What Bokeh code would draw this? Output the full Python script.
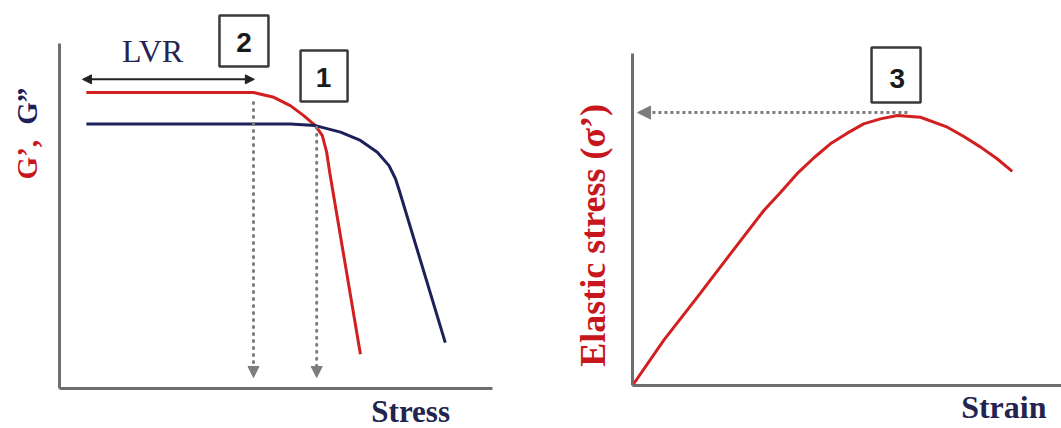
import math
from bokeh.plotting import figure
from bokeh.models import LinearAxis, FixedTicker, Label, Arrow, NormalHead, Range1d
from bokeh.layouts import row
from bokeh.embed import file_html
from bokeh.resources import INLINE

# ---------------- data (arbitrary units) ----------------
# Left panel: amplitude sweep, G' (red) and G'' (navy) versus stress
stress_g1 = [0.62, 4.48, 4.95, 5.33, 5.64, 5.91, 6.07, 6.17, 6.24, 6.95]
g_prime = [8.58, 8.58, 8.44, 8.20, 7.91, 7.62, 7.33, 6.85, 6.27, 0.99]
stress_g2 = [0.62, 5.33, 5.91, 6.49, 6.95, 7.34, 7.61, 7.76, 7.86, 8.91]
g_double_prime = [7.67, 7.67, 7.62, 7.43, 7.19, 6.85, 6.46, 6.08, 5.69, 1.33]

lvr_span = [0.53, 4.50]          # stress extent of the LVR arrow
lvr_level = 8.96
drop_stress = [4.48, 5.94]       # end of LVR, G'/G'' crossover
drop_from = [8.29, 7.57]
drop_to = [0.32, 0.32]

# Right panel: elastic stress versus strain
strain = [0.0, 0.74, 1.54, 1.93, 2.33, 3.12, 3.52, 3.91, 4.31, 4.70, 5.10, 5.49,
          5.89, 6.29, 6.84, 7.48, 7.87, 8.27, 8.66, 9.02]
elastic_stress = [0.0, 1.36, 2.66, 3.31, 3.97, 5.27, 5.82, 6.38, 6.86, 7.28, 7.60, 7.88,
                  8.03, 8.13, 8.08, 7.78, 7.50, 7.18, 6.83, 6.45]
yield_strain = 6.53
yield_stress = 8.22

box_labels_left = ["2", "1"]
box_labels_right = ["3"]

# ---------------- styling ----------------
RED = "#d21f1f"
RED_TXT = "#c8161d"
NAVY = "#1e205a"
TXT_NAVY = "#23244f"
AXIS_GREY = "#6e6e6e"
DOT_GREY = "#7d7d7d"
BOX = "#3a3a3a"
SERIF = "Liberation Serif"
SANS = "Liberation Sans"
H = 428


def add_axes(p, xb, yb):
    for loc, b in (("below", xb), ("left", yb)):
        ax = LinearAxis(fixed_location=0, bounds=b, ticker=FixedTicker(ticks=[]),
                        axis_line_color=AXIS_GREY, axis_line_width=3,
                        major_tick_line_color=None, minor_tick_line_color=None,
                        major_tick_in=0, major_tick_out=0, minor_tick_in=0, minor_tick_out=0,
                        major_label_text_font_size="0px", major_label_standoff=0,
                        axis_label=None)
        p.add_layout(ax, loc)


def base_fig(w, xr, yr):
    p = figure(width=w, height=H, x_range=Range1d(*xr), y_range=Range1d(*yr),
               output_backend="svg", toolbar_location=None,
               x_axis_location=None, y_axis_location=None,
               min_border=0, min_border_left=0, min_border_right=0,
               min_border_top=0, min_border_bottom=0)
    p.grid.visible = False
    p.outline_line_color = None
    p.background_fill_color = "white"
    p.border_fill_color = "white"
    return p


# ---------------- left panel ----------------
p1 = base_fig(530, (-1.363, 10.878), (-1.159, 11.246))
add_axes(p1, (0, 10), (0, 10))

p1.line(stress_g1, g_prime, line_color=RED, line_width=3)
p1.line(stress_g2, g_double_prime, line_color=NAVY, line_width=3)

for xs, y0, y1 in zip(drop_stress, drop_from, drop_to):
    p1.add_layout(Arrow(x_start=xs, y_start=y0, x_end=xs, y_end=y1,
                        line_color=DOT_GREY, line_width=3, line_dash="1 6", line_cap="round",
                        end=NormalHead(size=11, fill_color=DOT_GREY, line_color=DOT_GREY)))

p1.add_layout(Arrow(x_start=lvr_span[0], y_start=lvr_level, x_end=lvr_span[1], y_end=lvr_level,
                    line_color="#222222", line_width=2,
                    start=NormalHead(size=9, fill_color="#222222", line_color="#222222"),
                    end=NormalHead(size=9, fill_color="#222222", line_color="#222222")))

p1.add_layout(Label(x=2.15, y=9.77, text="LVR", text_align="center", text_baseline="alphabetic",
                    text_font=SERIF, text_font_size="32px", text_color=TXT_NAVY))

box_x1 = [4.26, 6.11]
box_y1 = [10.07, 9.06]
p1.rect(x=box_x1, y=box_y1, width=[49, 47], height=[51, 51], width_units="screen",
        height_units="screen", fill_color="white", line_color=BOX, line_width=2.5)
for t, x, y in zip(box_labels_left, [4.26, 6.10], [10.03, 9.01]):
    p1.add_layout(Label(x=x, y=y, text=t, text_align="center", text_baseline="alphabetic",
                        text_font=SANS, text_font_size="28px", text_font_style="bold",
                        text_color="#1a1a1a"))

p1.add_layout(Label(x=-0.74, y=6.06, text="G’,", angle=math.pi / 2, text_align="left",
                    text_baseline="alphabetic", text_font=SERIF, text_font_size="29px",
                    text_font_style="bold", text_color=RED_TXT))
p1.add_layout(Label(x=-0.74, y=8.72, text="G”", angle=math.pi / 2, text_align="right",
                    text_baseline="alphabetic", text_font=SERIF, text_font_size="29px",
                    text_font_style="bold", text_color=NAVY))

p1.add_layout(Label(x=8.11, y=-0.66, text="Stress", text_align="center",
                    text_baseline="alphabetic", text_font=SERIF, text_font_size="31px",
                    text_font_style="bold", text_color=TXT_NAVY))

# ---------------- right panel ----------------
p2 = base_fig(531, (-2.423, 10.190), (-1.295, 11.596))
add_axes(p2, (0, 10.19), (0, 10))

p2.line(strain, elastic_stress, line_color=RED, line_width=3)

p2.add_layout(Arrow(x_start=yield_strain, y_start=yield_stress, x_end=0.12, y_end=yield_stress,
                    line_color=DOT_GREY, line_width=3, line_dash="3 3",
                    end=NormalHead(size=13, fill_color=DOT_GREY, line_color=DOT_GREY)))

p2.rect(x=[6.26], y=[9.35], width=49, height=55, width_units="screen", height_units="screen",
        fill_color="white", line_color=BOX, line_width=2.5)
p2.add_layout(Label(x=6.29, y=9.25, text=box_labels_right[0], text_align="center",
                    text_baseline="alphabetic", text_font=SANS, text_font_size="28px",
                    text_font_style="bold", text_color="#1a1a1a"))

p2.add_layout(Label(x=-0.93, y=4.52, text="Elastic stress (σ’)", angle=math.pi / 2,
                    text_align="center", text_baseline="alphabetic", text_font=SERIF,
                    text_font_size="36px", text_font_style="bold", text_color=RED_TXT))

p2.add_layout(Label(x=8.82, y=-0.66, text="Strain", text_align="center",
                    text_baseline="alphabetic", text_font=SERIF, text_font_size="32px",
                    text_font_style="bold", text_color=TXT_NAVY))

layout = row(p1, p2, spacing=0)
open("out.html", "w").write(file_html(layout, INLINE))
